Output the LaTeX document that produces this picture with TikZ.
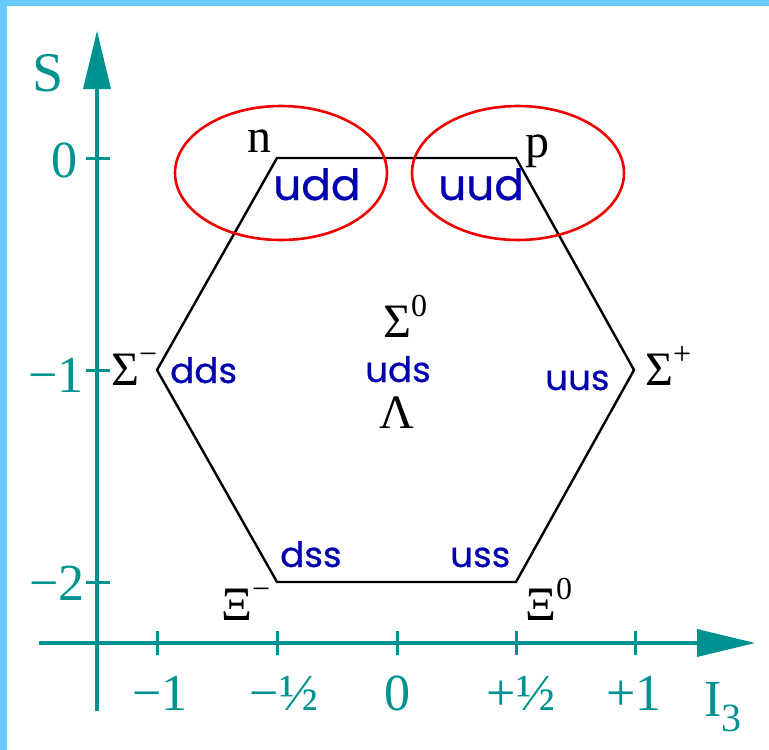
\documentclass[tikz,border=0pt]{standalone}
\usepackage{fontspec}
\setmainfont{Liberation Serif}
\newfontfamily\quarkfont[FakeStretch=1.02,FakeBold=0.6]{Poppins}
\definecolor{axteal}{RGB}{0,145,145}
\definecolor{qblue}{RGB}{0,0,175}
\definecolor{bordblue}{RGB}{102,204,255}
\definecolor{ellred}{RGB}{240,0,0}
\newcommand\supx[1]{\raisebox{0.42em}{\fontsize{32}{32}\selectfont #1}}
\tikzset{
  axisline/.style={axteal,line width=4.5pt},
  tickline/.style={axteal,line width=3pt},
  hexline/.style={black,line width=2.4pt,line join=miter},
  ringline/.style={ellred,line width=2.6pt},
  axlab/.style={axteal,inner sep=0pt,font=\fontsize{52}{52}\selectfont},
  hadron/.style={black,inner sep=0pt,font=\fontsize{48}{48}\selectfont},
  quark/.style={qblue,inner sep=0pt,anchor=base west,font=\quarkfont\fontsize{35}{35}\selectfont},
  bigquark/.style={quark,font=\quarkfont\fontsize{43}{43}\selectfont},
}
\begin{document}
\begin{tikzpicture}[x=1pt,y=-1pt]
\useasboundingbox (0,0) rectangle (769,750);
\fill[white] (0,0) rectangle (769,750);
\fill[bordblue] (0,0) rectangle (769,6);
\fill[bordblue] (0,0) rectangle (7,750);

% axes
\coordinate (ybot) at (97,711);
\coordinate (ytop) at (97,89);
\coordinate (xleft) at (39,643);
\coordinate (xright) at (697,643);
\draw[axisline] (ybot) -- (ytop);
\draw[axisline] (xleft) -- (xright);
\fill[axteal] (97,31) -- (83,89) -- (111,89) -- cycle;
\fill[axteal] (755,643) -- (697,629) -- (697,657) -- cycle;

% ticks
\foreach \yy in {158,370,582} \draw[tickline] (86,\yy) -- (110,\yy);
\foreach \xx in {157,277,397,516,635} \draw[tickline] (\xx,631) -- (\xx,655);

% axis labels
\node[axlab,font=\fontsize{56}{56}\selectfont] (lS) at (48,73) {S};
\node[axlab,anchor=base east] (l0) at (78,177) {0};
\node[axlab,anchor=base east] (lm1) at (84,392) {−1};
\node[axlab,anchor=base east] (lm2) at (85,600) {−2};
\node[axlab,anchor=base] (h1) at (160,710) {−1};
\node[axlab,anchor=base] (h2) at (284,710) {−½};
\node[axlab,anchor=base] (h3) at (397,710) {0};
\node[axlab,anchor=base] (h4) at (521,710) {+½};
\node[axlab,anchor=base] (h5) at (634,710) {+1};
\node[axlab,anchor=base west] (hI) at (704,716) {I\raisebox{-0.3em}{\fontsize{40}{40}\selectfont 3}};

% hexagon
\coordinate (vn) at (277,158);
\coordinate (vp) at (516,158);
\coordinate (vsp) at (634,370);
\coordinate (vx0) at (516,582);
\coordinate (vxm) at (277,582);
\coordinate (vsm) at (157,370);
\draw[hexline] (vn) -- (vp) -- (vsp) -- (vx0) -- (vxm) -- (vsm) -- cycle;

% ellipses
\draw[ringline] (281,173) ellipse [x radius=106, y radius=67];
\draw[ringline] (518,173) ellipse [x radius=106, y radius=67];

% hadron labels
\node[hadron,anchor=base] (tn) at (259,152) {n};
\node[hadron,anchor=base] (tp) at (537,157) {p};
\node[hadron,anchor=base west] (tsm) at (111,385) {Σ\supx{−}};
\node[hadron,anchor=base west] (tsp) at (645,385) {Σ\supx{+}};
\node[hadron,anchor=base west] (ts0) at (383,337) {Σ\supx{0}};
\node[hadron,anchor=base] (tl) at (397,428) {Λ};
\node[hadron,anchor=base west] (txm) at (221,620) {Ξ\supx{−}};
\node[hadron,anchor=base west] (tx0) at (525,620) {Ξ\supx{0}};

% quark labels
\node[bigquark] (qudd) at (273,200) {udd};
\node[bigquark] (quud) at (438,200) {uud};
\node[quark] (qdds) at (170,383) {dds};
\node[quark] (quds) at (365,382) {uds};
\node[quark] (quus) at (545,390) {uus};
\node[quark] (qdss) at (280,567) {dss};
\node[quark] (quss) at (450,567) {uss};
\end{tikzpicture}
\end{document}
